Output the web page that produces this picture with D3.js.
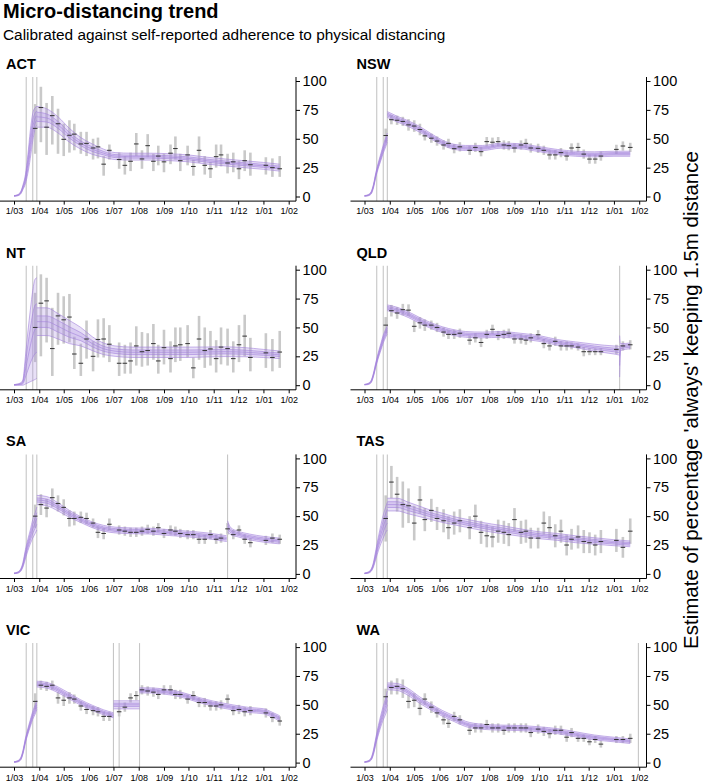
<!DOCTYPE html>
<html>
<head>
<meta charset="utf-8">
<script src="https://cdn.jsdelivr.net/npm/d3@7"></script>
<style>
body { margin: 0; background: #fff; }
text { font-family: "Liberation Sans", Arial, sans-serif; }
</style>
</head>
<body>
<svg id="chart" width="703" height="783"></svg>
<script>
// - - - - - - DATA

var states = ["ACT", "NSW", "NT", "QLD", "SA", "TAS", "VIC", "WA"];
var monthTicks = ["2020-03-01","2020-04-01","2020-05-01","2020-06-01","2020-07-01","2020-08-01",
  "2020-09-01","2020-10-01","2020-11-01","2020-12-01","2021-01-01","2021-02-01"];
var tickLabels = ["1/03","1/04","1/05","1/06","1/07","1/08","1/09","1/10","1/11","1/12","1/01","1/02"];
var yTicks = [0, 25, 50, 75, 100];

var eventDates = ["2020-03-16", "2020-03-24", "2020-03-29"];
var extraEvents = {QLD: ["2021-01-08"], SA: ["2020-11-18"],
  VIC: ["2020-07-01", "2020-07-08", "2020-08-02"], WA: ["2021-01-31"]};

// survey waves
var surveyDates = ["2020-03-27","2020-04-03","2020-04-10","2020-04-17","2020-04-24","2020-05-01",
  "2020-05-08","2020-05-14","2020-05-22","2020-05-29","2020-06-06","2020-06-12","2020-06-19",
  "2020-06-26","2020-07-08","2020-07-15","2020-07-22","2020-07-29","2020-08-05","2020-08-12",
  "2020-08-19","2020-08-25","2020-09-01","2020-09-09","2020-09-15","2020-09-21","2020-09-30",
  "2020-10-07","2020-10-14","2020-10-21","2020-10-28","2020-11-04","2020-11-10","2020-11-18",
  "2020-11-25","2020-12-02","2020-12-09","2020-12-16","2021-01-04","2021-01-12","2021-01-21"];

var meanACT = [59,77,60,70,63,49.5,53,54,45.5,46,42,43,28,40,32,27,30.5,45.5,32.5,44,30.5,35,30,37.5,41.5,31,36,26,40,27,24,34.5,36,29,30,24,31,27.5,27,25,24];
var loACT = [37,47,36,45,37,35,38,40,37,35,32,33,18,32,24,19,22,35,24,34,22,27,21,28,32,22,27,18,29,19,16,25,26,20,21,15,22,18,19,17,17];
var hiACT = [80,95,81,87,76,63,66,63,56,56,50,51,35,45,38,35,38,55,40,54,37,44,37,45,52,37,44,32,52,35,30,45,45,37,38,31,40,38,34,33,35];

var meanNSW = [52.8,66.5,66,65,62,61,58,52.5,50.5,48,44.6,46,41.4,43,40,42.5,38.8,47.5,47,47.5,44.6,44,42,44.6,46,42,41.7,40,36,36,38,35,42,42.5,36.7,32.4,32.4,35,40.8,43.7,42.5];
var errNSW = [6,4,4,4,5,5,5,4,4,4,4,4,4,4,4,4,4,4,4,4,4,4,4,4,4,4,4,4,4,4,4,4,4,4,4,4,4,4,4,4,4];

var meanNT = [50,71,73,31.7,60,56.6,59,27,19,40,25,39.6,40,35.5,19,19,21,34,29,30,36,21,32.5,23,34,35,36,15,40,30,31.4,23,33,31.7,23,35,42.5,24,28,24,28.7];
var loNT = [20,25,37,8,35,36,37,14,8,23,12,24,24,20,8,10,10,17,16,17,22,10,18,11,20,21,24,6,22,15,17,11,18,17,11,20,25,12,15,12,15];
var hiNT = [80,96,93,67,80,77,79,42,36,56,38,57,58,52,37,35,37,51,46,45,53,35,48,38,50,50,52,24,60,50,47,39,50,49,38,52,61,41,45,40,47];

var meanQLD = [52,64.5,62.5,65.4,65,51,54,52,52,50,46,44,44,45,39,41,37,44,48.4,43,44,45,40,40,39,41,43.7,36,34,38,34,34,34,33,29,29,29,29,31,34,35];
var errQLD = [7,5,5,5,5,5,5,5,4,4,4,4,4,4,4,4,4,4,4,4,4,4,4,4,4,4,4,4,4,4,4,4,3,3,4,3,3,3,4,4,4];

var meanSA = [50,60,57,66,61,57.6,48,48,49,48,44,36,35,43,38,37,36,36,37,38.6,37,40,35,38,37,35,34,34,30,30,34,30,31,39,34,38,30,27,29,31,30];
var errSA = [10,9,8,8,7,7,7,6,5,5,4,5,5,5,4,4,4,4,4,4,4,4,4,4,4,4,4,4,4,4,4,4,4,5,4,4,4,4,4,4,4];

var meanTAS = [48,79.5,69,60,59,44,64,47,55,48,46,40,44,46,40,50,36,33,32,37,36,34,47,36,37,31,31,44,40,33,37,25,30,32,28,27,25,28,29,23,37];
var errTAS = [20,14,15,20,15,15,12,10,10,10,10,10,10,10,10,10,10,10,9,10,10,10,10,10,10,9,9,10,10,10,10,9,9,10,10,9,9,10,10,9,11];

var meanVIC = [53,67,66,67,56,54,56,55,49,46,45,44,40,40,44,48,56,58,63,62,61,59,63,63,59,59,55,58,52,52,49,49,50,55,45,46,44,45,43,39,36];
var errVIC = [7,4,4,4,5,5,5,4,4,4,4,4,4,4,4,4,4,4,4,4,4,4,4,4,4,4,4,4,4,4,4,4,4,4,4,4,4,4,4,4,4];

var meanWA = [57,65,66,64,53,54,47,55,48,43,37,34,40,37,28,30,30,33,30,30,28,30,30,30,30,26,29,27,25,28,28,22,26,21,21,18,20,16,20,20,21];
var errWA = [7,6,7,8,6,6,6,5,5,4,4,4,4,4,4,4,4,4,4,4,4,4,4,4,4,4,4,4,4,4,4,4,4,3,3,3,3,3,3,3,4];

// model fit: [dates, centre, 90% half width, 50% half width]
var preDates = ["2020-03-01","2020-03-05","2020-03-09","2020-03-12","2020-03-15","2020-03-18",
  "2020-03-21","2020-03-24","2020-03-27","2020-03-29"];
var postDates = ["2020-03-29","2020-04-10","2020-04-24","2020-05-08","2020-05-22","2020-06-05",
  "2020-06-19","2020-07-03","2020-07-24","2020-08-15","2020-09-08","2020-10-01","2020-10-24",
  "2020-11-15","2020-12-08","2021-01-01","2021-01-21"];

var fitACT = [
  [preDates, [0.5,1,3,8,15,28,45,60,68,70], [0.3,0.5,1,2,4,8,12,12,9,8], [0.1,0.2,0.5,1,2,4,6,6,4.5,4]],
  [postDates, [69,68,62,53,46,41,37.5,35,34.5,34.5,34,33,31,29.5,28,26.5,25],
    [9,8,7,6,5,4.5,3.5,3,3,3,3,3,3,3,3,3,3],
    [4,3.5,3,2.5,2,2,1.5,1.3,1.3,1.3,1.3,1.3,1.3,1.3,1.3,1.3,1.3]]
];
var fitNSW = [
  [preDates, [0.5,1,3,9,19,27,34,41,47,51], [0.3,0.5,1,1.5,2,2.5,3,3.5,4,4], [0.1,0.2,0.5,0.7,1,1.2,1.5,1.7,2,2]],
  [postDates, [71,67,63,58,52,46.5,43,42,42,44,43.5,41,38.5,37,36.5,37,37],
    [2.5,2.5,2.5,2.5,2.3,2.2,2.2,2.2,2.2,2.2,2.2,2.2,2.2,2.2,2.2,2.2,2.2],
    [1.2,1.2,1.2,1.1,1.1,1,1,1,1,1,1,1,1,1,1,1,1]]
];
var fitNT = [
  [preDates, [0.25,0.5,1,2.5,13,24,34,43,48.5,49.5], [0.25,0.5,1,2.5,12,22,31,39,43.5,43.5], [0.1,0.3,0.5,1.2,6,11,15,19,21,21]],
  [postDates, [55,55,51,46,42,36,31.5,29.5,28.5,28.5,28.5,28.5,28.8,29,28.6,27.5,26.3],
    [12,12,11,10,8,6,5,4.5,4.5,4.5,4.5,4.5,4.3,4.2,4,3.5,3.3],
    [5,5,5,4.5,3.5,2.7,2.2,2,2,2,2,2,1.9,1.9,1.8,1.6,1.5]]
];
var fitQLD = [
  [preDates, [0.5,1,3,9,18,26,33,40,45,48], [0.3,0.5,1,1.5,2,2.5,3,3.5,3.5,3.5], [0.1,0.2,0.5,0.7,1,1.2,1.5,1.7,1.7,1.7]],
  [["2020-03-29","2020-04-10","2020-04-24","2020-05-08","2020-05-22","2020-06-05","2020-06-19",
    "2020-07-03","2020-07-24","2020-08-15","2020-09-08","2020-10-01","2020-10-24","2020-11-15",
    "2020-12-08","2021-01-01","2021-01-07"],
    [67,65,61,56,51.5,48,45.5,44,43.5,44,42.5,40.5,37,35,32.5,30.5,30],
    [2.5,2.5,2.5,2.5,2.5,2.5,2.5,2.5,2.5,2.5,2.5,2.5,2.5,2.5,3,3.5,3.8],
    [1.2,1.2,1.2,1.2,1.2,1.2,1.2,1.2,1.2,1.2,1.2,1.2,1.2,1.2,1.4,1.6,1.8]],
  [["2021-01-08","2021-01-09","2021-01-21"], [25,33,34], [18,3,2.5], [8,1.4,1.2]]
];
var fitSA = [
  [preDates, [0.5,1,3,8,17,25,32,39,44,48], [0.3,0.5,1,2,4,5,6,8,9,10], [0.1,0.2,0.5,1,2,2.5,3,4,4.5,5]],
  [["2020-03-29","2020-04-10","2020-04-24","2020-05-08","2020-05-22","2020-06-05","2020-06-19",
    "2020-07-03","2020-07-24","2020-08-15","2020-09-08","2020-10-01","2020-10-24","2020-11-17"],
    [64,63,58,52,47,42.5,39.5,38,37.3,37,35.7,34.5,33,30.5],
    [4,4,3.5,3,2.5,2.5,2.5,2.5,2.5,2.5,2.5,2.5,2.5,2.5],
    [1.8,1.8,1.6,1.4,1.2,1.2,1.2,1.2,1.2,1.2,1.2,1.2,1.2,1.2]],
  [["2020-11-18","2020-11-22","2020-12-01","2020-12-15","2021-01-01","2021-01-21"],
    [41,37,34.5,32,30,28.5], [5,3,2.5,2.5,2.5,2.5], [2.5,1.4,1.2,1.2,1.2,1.2]]
];
var fitTAS = [
  [preDates, [0.5,1,3,8,17,26,34,41,47,50], [0.3,0.5,1,2,4,6,8,10,11,12], [0.1,0.2,0.5,1,2,3,4,5,5.5,6]],
  [postDates, [60,60,57,54,51,48.5,46,44,41,38.5,35.8,33.5,32,30,28.5,27,26],
    [5.5,5.5,5,4.5,4,4,3.5,3.5,3.5,3.5,3.2,3,3,3,2.8,2.6,2.5],
    [2.5,2.5,2.3,2,1.8,1.8,1.6,1.6,1.6,1.6,1.5,1.4,1.4,1.4,1.3,1.2,1.2]]
];
var fitVIC = [
  [preDates, [0.5,1,3,9,19,27,34,41,46,50], [0.3,0.5,1,1.5,2,2.5,3,3.5,4,4], [0.1,0.2,0.5,0.7,1,1.2,1.5,1.7,2,2]],
  [["2020-03-29","2020-04-10","2020-04-24","2020-05-08","2020-05-22","2020-06-05","2020-06-19","2020-07-01"],
    [68,67,63,57.5,52,47.5,43.5,41], [2.5,2.5,2.5,2.5,2.3,2.2,2.2,2.2], [1.2,1.2,1.2,1.1,1.1,1,1,1]],
  [["2020-07-01","2020-07-08","2020-07-20","2020-08-02"], [50,50,50,50], [3.5,3.5,3.5,3.5], [1.5,1.5,1.5,1.5]],
  [["2020-08-02","2020-08-15","2020-09-01","2020-09-15","2020-10-01","2020-10-15","2020-11-01",
    "2020-11-15","2020-12-01","2020-12-15","2021-01-01","2021-01-10","2021-01-21"],
    [62.5,62.5,61.5,60,57,54,51,49,47,45.5,44.5,42,38.3],
    [2.2,2.2,2.2,2.2,2.2,2.2,2.2,2.2,2.2,2.2,2.2,2.2,2.3],
    [1,1,1,1,1,1,1,1,1,1,1,1,1.1]]
];
var fitWA = [
  [preDates, [0.5,1,3,9,19,28,36,43,49,54], [0.3,0.5,1,2,3,4,5,6,7,8], [0.1,0.2,0.5,1,1.5,2,2.5,3,3.5,4]],
  [postDates, [66,65.5,61,54,48,42.5,38,33.5,31,30.3,29.9,28.8,27.2,24.5,21.8,20,18.5],
    [3,3,3,2.8,2.6,2.5,2.5,2.3,2.2,2.2,2.2,2.2,2.2,2.2,2.1,2,2],
    [1.3,1.3,1.3,1.2,1.2,1.1,1.1,1,1,1,1,1,1,1,1,0.9,0.9]]
];

var survey = {
  ACT: {mean: meanACT, lo: loACT, hi: hiACT},
  NSW: {mean: meanNSW, err: errNSW},
  NT: {mean: meanNT, lo: loNT, hi: hiNT},
  QLD: {mean: meanQLD, err: errQLD},
  SA: {mean: meanSA, err: errSA},
  TAS: {mean: meanTAS, err: errTAS},
  VIC: {mean: meanVIC, err: errVIC},
  WA: {mean: meanWA, err: errWA}
};
var fits = {ACT: fitACT, NSW: fitNSW, NT: fitNT, QLD: fitQLD, SA: fitSA, TAS: fitTAS, VIC: fitVIC, WA: fitWA};

/* * - - - - - - - - DRAWING
*/

var parse = d3.timeParse("%Y-%m-%d");
var svg = d3.select("#chart");

var bandFill = "rgb(172,145,226)";
var bandLine = "rgb(162,130,220)";

svg.append("text")
  .attr("x", 3).attr("y", 18)
  .style("font-size", "20px").style("font-weight", "bold")
  .text("Micro-distancing trend");

svg.append("text")
  .attr("x", 3).attr("y", 40)
  .style("font-size", "15.4px")
  .text("Calibrated against self-reported adherence to physical distancing");

svg.append("text")
  .attr("transform", "translate(698,400) rotate(-90)")
  .attr("text-anchor", "middle")
  .style("font-size", "20.5px")
  .text("Estimate of percentage 'always' keeping 1.5m distance");

states.forEach(function(st, i) {
  var col = i % 2, row = Math.floor(i / 2);
  var ox = col * 350.5;
  var base = 196.5 + 188.7 * row;

  var x = d3.scaleTime()
    .domain([parse("2020-03-01"), parse("2021-02-01")])
    .range([ox + 14, ox + 288.7]);
  var y = d3.scaleLinear().domain([0, 100]).range([base, base - 115.5]);

  var top = y(100) - 4, bottom = base + 4.6, axisX = ox + 296;
  var g = svg.append("g");

  // state label
  g.append("text")
    .attr("x", ox + 6).attr("y", 69 + 188.7 * row)
    .style("font-size", "14.5px").style("font-weight", "bold")
    .text(st);

  // event lines
  var ev = eventDates.concat(extraEvents[st] || []);
  g.selectAll(".ev").data(ev).enter().append("line")
    .attr("x1", function(d) { return x(parse(d)); })
    .attr("x2", function(d) { return x(parse(d)); })
    .attr("y1", top).attr("y2", bottom)
    .attr("stroke", "#c6c6c6").attr("stroke-width", 1.1);

  // survey error bars
  var s = survey[st];
  var pts = surveyDates.map(function(d, k) {
    return {
      date: parse(d), mean: s.mean[k],
      lo: s.lo ? s.lo[k] : s.mean[k] - s.err[k],
      hi: s.hi ? s.hi[k] : s.mean[k] + s.err[k]
    };
  });
  g.selectAll(".bar").data(pts).enter().append("line")
    .attr("x1", function(d) { return x(d.date); })
    .attr("x2", function(d) { return x(d.date); })
    .attr("y1", function(d) { return y(Math.max(0, d.lo)); })
    .attr("y2", function(d) { return y(Math.min(100, d.hi)); })
    .attr("stroke", "#c9c9c9").attr("stroke-width", 2.6);

  // model bands
  fits[st].forEach(function(seg) {
    var rows = seg[0].map(function(d, k) {
      return {date: parse(d), mid: seg[1][k], w90: seg[2][k], w50: seg[3][k]};
    });
    var curve = d3.curveMonotoneX;
    var outer = d3.area().curve(curve)
      .x(function(d) { return x(d.date); })
      .y0(function(d) { return y(d.mid - d.w90); })
      .y1(function(d) { return y(d.mid + d.w90); });
    var inner = d3.area().curve(curve)
      .x(function(d) { return x(d.date); })
      .y0(function(d) { return y(d.mid - d.w50); })
      .y1(function(d) { return y(d.mid + d.w50); });
    g.append("path").datum(rows).attr("d", outer)
      .attr("fill", bandFill).attr("fill-opacity", 0.28);
    g.append("path").datum(rows).attr("d", inner)
      .attr("fill", bandFill).attr("fill-opacity", 0.3);
    [-1, -0.5, 0, 0.5, 1].forEach(function(f) {
      var ln = d3.line().curve(curve)
        .x(function(d) { return x(d.date); })
        .y(function(d) {
          var w = Math.abs(f) == 1 ? d.w90 : d.w50;
          return y(d.mid + (f < 0 ? -w : (f > 0 ? w : 0)));
        });
      g.append("path").datum(rows).attr("d", ln)
        .attr("fill", "none").attr("stroke", bandLine)
        .attr("stroke-width", 0.8).attr("stroke-opacity", 0.75);
    });
  });

  // survey means
  g.selectAll(".mean").data(pts).enter().append("line")
    .attr("x1", function(d) { return x(d.date) - 2.3; })
    .attr("x2", function(d) { return x(d.date) + 2.3; })
    .attr("y1", function(d) { return y(d.mean); })
    .attr("y2", function(d) { return y(d.mean); })
    .attr("stroke", "#333").attr("stroke-width", 1);

  // x axis
  g.append("line")
    .attr("x1", ox).attr("x2", axisX)
    .attr("y1", bottom).attr("y2", bottom)
    .attr("stroke", "#000").attr("stroke-width", 1);
  var xa = g.append("g")
    .attr("transform", "translate(0," + bottom + ")")
    .call(d3.axisBottom(x)
      .tickValues(monthTicks.map(parse))
      .tickFormat(function(d, k) { return tickLabels[k]; })
      .tickSize(3.5).tickPadding(3.5));
  xa.select(".domain").remove();
  xa.selectAll("text").style("font-size", "9px").attr("fill", "#000");

  // y axis
  g.append("line")
    .attr("x1", axisX).attr("x2", axisX)
    .attr("y1", top).attr("y2", bottom)
    .attr("stroke", "#000").attr("stroke-width", 1);
  var ya = g.append("g")
    .attr("transform", "translate(" + axisX + ",0)")
    .call(d3.axisRight(y).tickValues(yTicks).tickSize(4).tickPadding(2.5));
  ya.select(".domain").remove();
  ya.selectAll("text").style("font-size", "14.5px").attr("fill", "#000");
});
</script>
</body>
</html>
